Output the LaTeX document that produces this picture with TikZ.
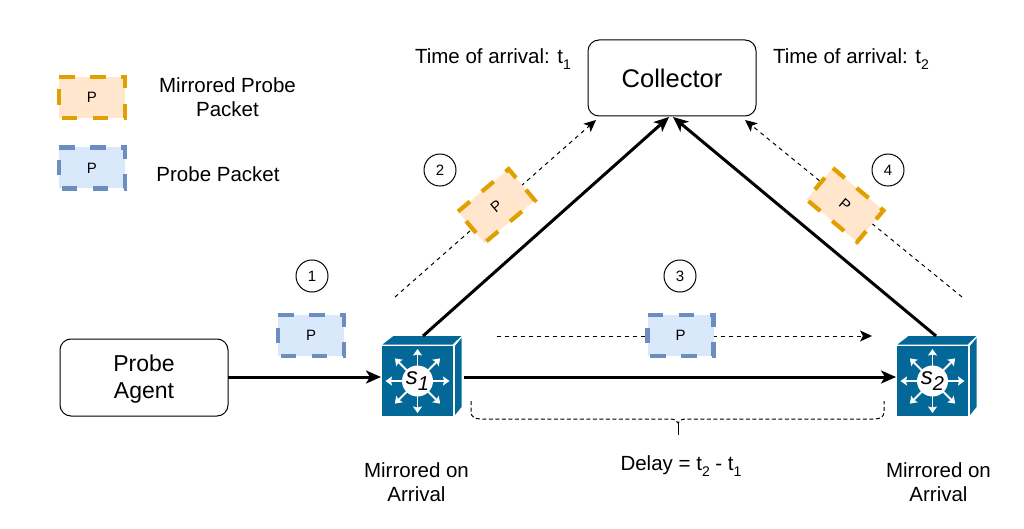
\documentclass[tikz,border=0pt]{standalone}
\usepackage{fontspec}
\setmainfont{Liberation Sans}
\usetikzlibrary{arrows.meta}
\definecolor{swblue}{HTML}{036897}
\definecolor{orfill}{HTML}{FFE6CC}
\definecolor{orline}{HTML}{E0A000}
\definecolor{blfill}{HTML}{DAE8FC}
\definecolor{blline}{HTML}{6C8EBF}
\newcommand{\subt}[1]{\raisebox{-0.3em}{\fontsize{14}{14}\selectfont #1}}
\tikzset{
  x=1pt,y=-1pt,
  box/.style={draw=black,line width=1pt,rounded corners=11pt,fill=white,align=center,inner sep=0pt},
  label/.style={inner sep=0pt,align=center,font=\fontsize{20.5}{24.5}\selectfont},
  numcirc/.style={circle,draw=black,line width=1pt,minimum size=32pt,inner sep=0pt,font=\fontsize{15}{15}\selectfont},
  mainarrow/.style={line width=3pt,-{Stealth[length=15pt,width=13pt,inset=4pt]}},
  dotarrow/.style={line width=1pt,dash pattern=on 4pt off 4pt,-{Stealth[length=12pt,width=11pt,inset=3pt]}},
  packetedge/.style={line width=4.2pt,dash pattern=on 15.5pt off 15.5pt},
  swhole/.style={draw=none,minimum width=71pt,minimum height=70pt,inner sep=0pt},
  swarrow/.style={draw=white,line width=1.8pt,-{Stealth[length=6.5pt,width=9pt,inset=1pt]}},
}
% #1 name, #2 x, #3 y, #4 rotation, #5 fill, #6 line
\newcommand{\packet}[6]{%
  \begin{scope}[shift={(#2,#3)},rotate=#4]
    \fill[#5] (-33,-20.5) rectangle (33,20.5);
    \draw[packetedge,#6] (-33,-20.5) -- (33,-20.5) -- (33,20.5) -- (-33,20.5) -- cycle;
    \node[inner sep=0pt,rotate=#4,font=\fontsize{15}{15}\selectfont] (#1) at (0,0) {P};
  \end{scope}}
% #1 node name, #2 front-face centre x, #3 centre y, #4 subscript
\newcommand{\switch}[4]{%
  \begin{scope}[shift={(#2,#3)}]
    \fill[swblue] (-35,-37.5) -- (-24,-46) -- (44,-46) -- (35,-37.5) -- cycle;
    \fill[swblue] (37.5,-36) -- (44,-44) -- (44,25) -- (37.5,33) -- cycle;
    \node[swhole,fill=swblue] (#1) at (0,-1) {};
    \foreach \a in {0,45,...,315}
      \draw[swarrow,shift={(0,-1)}] (\a:15) -- (\a:32);
    \fill[white] (0,-1) circle (15.5);
    \node[inner sep=0pt,font=\fontsize{24}{24}\selectfont] at (0,-1) {\itshape s\raisebox{-0.28em}{\fontsize{20}{20}\selectfont #4}};
  \end{scope}}
\begin{document}
\begin{tikzpicture}
\useasboundingbox (0,0) rectangle (1024,529);

% connector end points
\coordinate (c1in) at (669,117);
\coordinate (c2in) at (673,117);
\coordinate (s1top) at (423,336);
\coordinate (s2top) at (936,336);
\coordinate (d2a) at (395,297);
\coordinate (d2b) at (596,120);
\coordinate (d4a) at (962,297);
\coordinate (d4b) at (745,120);
\coordinate (d3a) at (497,336);
\coordinate (d3b) at (872,336);
\coordinate (ag) at (228,377);
\coordinate (s1in) at (381,377);
\coordinate (s1out) at (464,377);
\coordinate (s2in) at (896,377);

% dashed flows
\draw[dotarrow] (d2a) -- (d2b);
\draw[dotarrow] (d4a) -- (d4b);
\draw[dotarrow] (d3a) -- (d3b);

% nodes
\node[box,minimum width=168pt,minimum height=77pt] (agent) at (144,377.5) {};
\node[inner sep=0pt,align=center,font=\fontsize{23}{27}\selectfont] (agenttext) at (144,379.5) {Probe\\Agent};
\node[box,minimum width=168pt,minimum height=76pt,font=\fontsize{25.5}{30}\selectfont] (collector) at (672,78) {Collector};
\switch{s1}{417.5}{382}{1}
\switch{s2}{932.5}{382}{2}

% main arrows
\draw[mainarrow] (ag) -- (s1in);
\draw[mainarrow] (s1out) -- (s2in);
\draw[mainarrow] (s1top) -- (c1in);
\draw[mainarrow] (s2top) -- (c2in);

% packets
\packet{lego}{92}{97.5}{0}{orfill}{orline}
\packet{legb}{92}{168}{0}{blfill}{blline}
\packet{p1}{311}{335.5}{0}{blfill}{blline}
\packet{p3}{680.5}{335.5}{0}{blfill}{blline}
\packet{p2}{496.5}{206}{40}{orfill}{orline}
\packet{p4}{845}{205}{-40}{orfill}{orline}

% numbers
\node[numcirc] (n1) at (312,276) {1};
\node[numcirc] (n2) at (440,170) {2};
\node[numcirc] (n3) at (680,276) {3};
\node[numcirc] (n4) at (888,170) {4};

% brace
\draw[line width=1pt,dash pattern=on 4pt off 2.5pt]
  (471,401) -- (471,412) .. controls (471,417) and (475,419) .. (481,419)
  -- (670,419) .. controls (675,419) and (677,421) .. (678,423)
  .. controls (679,421) and (681,419) .. (686,419)
  -- (874,419) .. controls (880,419) and (884,417) .. (884,412) -- (884,401);
\draw[line width=1pt] (678,423) -- (678,435);

% labels
\node[label] (t1) at (493,59) {Time of arrival: t\subt{1}};
\node[label] (t2) at (851,59) {Time of arrival: t\subt{2}};
\node[label] (lm) at (227.5,97) {Mirrored Probe\\Packet};
\node[label] (lp) at (218,174) {Probe Packet};
\node[label] (m1) at (416.5,482) {Mirrored on\\Arrival};
\node[label] (m2) at (938.5,482) {Mirrored on\\Arrival};
\node[label] (delay) at (681,466) {Delay = t\subt{2} - t\subt{1}};
\end{tikzpicture}
\end{document}
